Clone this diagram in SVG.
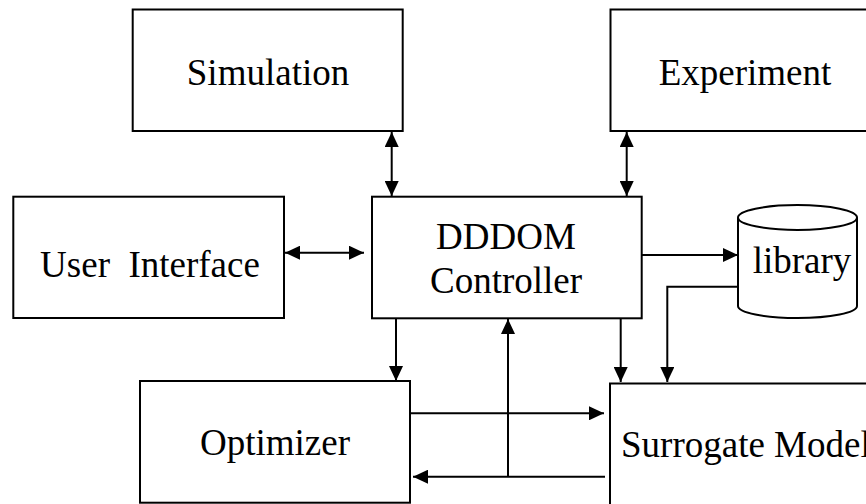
<svg xmlns="http://www.w3.org/2000/svg" width="866" height="504" viewBox="0 0 866 504">
<defs>
<style>
.box{fill:#fff;stroke:#000;stroke-width:2}
.lbl{font-family:'Liberation Serif','Times New Roman',serif;font-size:37px;fill:#000;text-anchor:middle}
.con{fill:none;stroke:#000;stroke-width:2}
</style>
<marker id="ah" viewBox="0 0 15 14" refX="15" refY="7" markerWidth="15" markerHeight="14" markerUnits="userSpaceOnUse" orient="auto-start-reverse">
<path d="M0,0 L15,7 L0,14 z" fill="#000"/>
</marker>
</defs>
<rect width="866" height="504" fill="#fff"/>
<g id="connectors">
<line class="con" x1="391.7" y1="132" x2="391.7" y2="196" marker-start="url(#ah)" marker-end="url(#ah)"/>
<line class="con" x1="626.7" y1="132" x2="626.7" y2="196" marker-start="url(#ah)" marker-end="url(#ah)"/>
<line class="con" x1="285" y1="252.7" x2="364" y2="252.7" marker-start="url(#ah)" marker-end="url(#ah)"/>
<line class="con" x1="642" y1="255" x2="738" y2="255" marker-end="url(#ah)"/>
<line class="con" x1="396" y1="318" x2="396" y2="381" marker-end="url(#ah)"/>
<line class="con" x1="411" y1="413.3" x2="604" y2="413.3" marker-end="url(#ah)"/>
<line class="con" x1="605" y1="476.7" x2="413" y2="476.7" marker-end="url(#ah)"/>
<line class="con" x1="508" y1="476.7" x2="508" y2="319" marker-end="url(#ah)"/>
<line class="con" x1="620.7" y1="318" x2="620.7" y2="382" marker-end="url(#ah)"/>
<path class="con" d="M738,286.7 H667.3 V382" marker-end="url(#ah)"/>
</g>
<g id="simulation">
<rect class="box" x="132.7" y="9.5" width="270" height="121.5"/>
<text class="lbl" x="268" y="85">Simulation</text>
</g>
<g id="experiment">
<rect class="box" x="610.5" y="9.5" width="270" height="121.5"/>
<text class="lbl" x="745" y="85">Experiment</text>
</g>
<g id="user-interface">
<rect class="box" x="13.3" y="196.7" width="270.7" height="121.3"/>
<text class="lbl" x="150" y="277" xml:space="preserve">User  Interface</text>
</g>
<g id="controller">
<rect class="box" x="372" y="196.7" width="269.7" height="121.6"/>
<text class="lbl" x="506" y="249">DDDOM</text>
<text class="lbl" x="506" y="293">Controller</text>
</g>
<g id="library">
<path class="box" d="M738,217.5 V306 A59.5,12 0 0 0 857,306 V217.5"/>
<ellipse class="box" cx="797.5" cy="217.5" rx="59.5" ry="12.5"/>
<text class="lbl" x="802" y="273">library</text>
</g>
<g id="optimizer">
<rect class="box" x="140" y="381" width="270" height="121.7"/>
<text class="lbl" x="275" y="455">Optimizer</text>
</g>
<g id="surrogate">
<rect class="box" x="610" y="383.5" width="280" height="140"/>
<text class="lbl" x="621" y="457" style="text-anchor:start">Surrogate Model</text>
</g>
</svg>
